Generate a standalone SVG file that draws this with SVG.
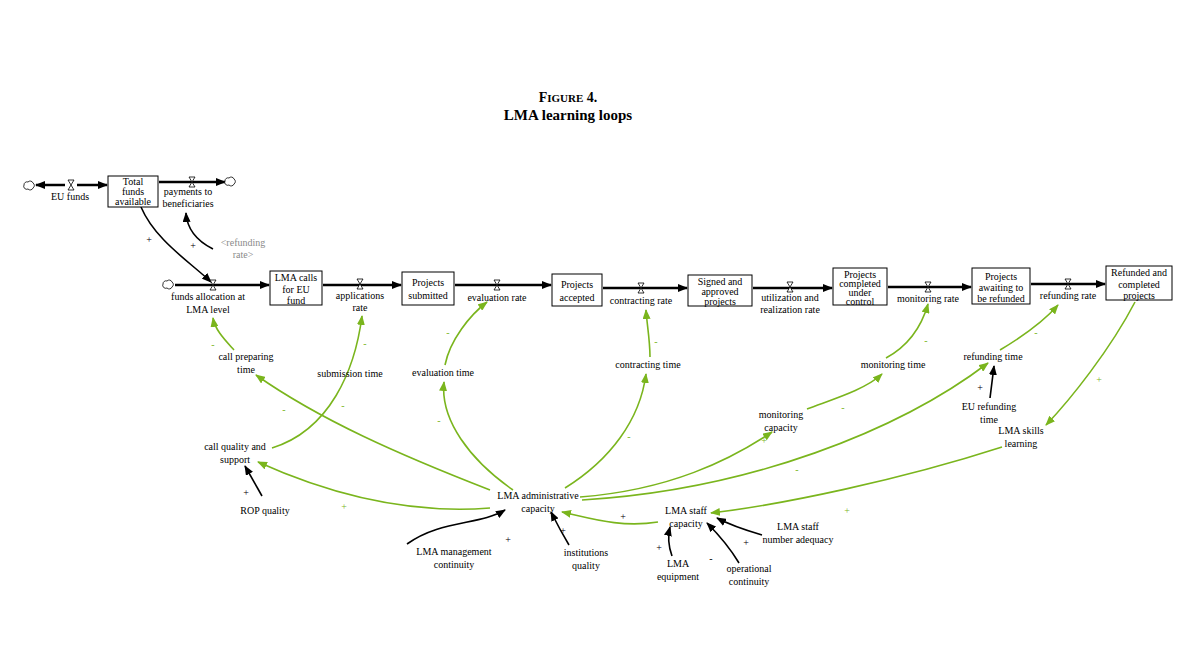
<svg xmlns="http://www.w3.org/2000/svg" width="1187" height="645" viewBox="0 0 1187 645">
<style>
text{font-family:"Liberation Serif","DejaVu Serif",serif;font-size:10px;fill:#000;text-anchor:middle}
.g{fill:#8a8a8a}
.s{fill:#7ab51d}
.box{fill:#fff;stroke:#000;stroke-width:1}
.flow{stroke:#000;stroke-width:2.5;fill:none;marker-end:url(#fa)}
.bl{stroke:#000;stroke-width:1.6;fill:none;marker-end:url(#ba)}
.gr{stroke:#7ab51d;stroke-width:1.6;fill:none;marker-end:url(#ga)}
.cl{fill:#fff;stroke:#000;stroke-width:0.8}
.v{fill:#fff;stroke:#000;stroke-width:0.8}
</style>
<defs>
<marker id="fa" markerWidth="10" markerHeight="8" refX="9" refY="4" orient="auto" markerUnits="userSpaceOnUse"><path d="M0,0L10,4L0,8z" fill="#000"/></marker>
<marker id="ba" markerWidth="10" markerHeight="8" refX="9" refY="4" orient="auto" markerUnits="userSpaceOnUse"><path d="M0,0L10,4L0,8z" fill="#000"/></marker>
<marker id="ga" markerWidth="10" markerHeight="8" refX="9" refY="4" orient="auto" markerUnits="userSpaceOnUse"><path d="M0,0L10,4L0,8z" fill="#7ab51d"/></marker>
<path id="valve" d="M-3,-5h6l-6,10h6z"/>
<path id="cloud" d="M-6,0a3,3 0 0 1 4,-3a3,3 0 0 1 5,1a3,3 0 0 1 0,5a3,3 0 0 1 -5,1a3,3 0 0 1 -4,-4z"/>
</defs>
<text x="568" y="102" style="font-size:14px;font-weight:bold">F<tspan style="font-size:11px">IGURE</tspan> 4.</text>
<text x="568" y="120" style="font-size:15px;font-weight:bold">LMA learning loops</text>

<g id="connectors">
<path class="flow" d="M65,185H36"/>
<path class="flow" d="M77,185H107"/>
<path class="flow" d="M159,182H225"/>
<path class="flow" d="M175,285H269"/>
<path class="flow" d="M323,285H401"/>
<path class="flow" d="M455,285H551"/>
<path class="flow" d="M603,288H687"/>
<path class="flow" d="M753,288H832"/>
<path class="flow" d="M888,287H971"/>
<path class="flow" d="M1031,284H1105"/>
<path class="bl" d="M141,207C155,240 190,262 211,282"/>
<path class="bl" d="M213,249C195,240 187,228 186,213"/>
<path class="bl" d="M262,496L245,466"/>
<path class="bl" d="M407,544C440,520 480,525 505,510"/>
<path class="bl" d="M569,545C560,530 556,522 551,512"/>
<path class="bl" d="M672,556C668,545 668,535 670,527"/>
<path class="bl" d="M739,563C730,548 718,534 707,523"/>
<path class="bl" d="M762,535C745,530 730,525 717,518"/>
<path class="bl" d="M990,398L994,366"/>
<path class="gr" d="M234,350C225,340 215,330 213,318"/>
<path class="gr" d="M272,448C330,430 355,370 362,316"/>
<path class="gr" d="M445,365C450,340 470,315 487,302"/>
<path class="gr" d="M650,357C650,340 647,325 646,310"/>
<path class="gr" d="M886,358C910,345 922,325 928,304"/>
<path class="gr" d="M1000,350C1025,335 1045,320 1058,305"/>
<path class="gr" d="M1135,302C1110,350 1070,400 1046,425"/>
<path class="gr" d="M807,409C830,400 865,390 882,374"/>
<path class="gr" d="M490,490C400,455 320,420 256,375"/>
<path class="gr" d="M490,508C400,515 320,490 258,462"/>
<path class="gr" d="M513,490C470,460 440,420 444,382"/>
<path class="gr" d="M565,488C610,460 640,420 646,374"/>
<path class="gr" d="M580,497C670,490 730,460 772,432"/>
<path class="gr" d="M582,500C750,490 900,430 988,363"/>
<path class="gr" d="M658,522C620,528 590,518 562,512"/>
<path class="gr" d="M1002,447C900,480 780,505 711,513"/>
</g>

<g id="nodes">
<g id="cloud1"><use href="#cloud" x="30" y="185" class="cl"/></g>
<g id="cloud2"><use href="#cloud" x="231" y="181" class="cl"/></g>
<g id="cloud3"><use href="#cloud" x="169" y="284" class="cl"/></g>
<g id="eu-funds"><use href="#valve" x="71" y="185" class="v"/><text x="70" y="200">EU funds</text></g>
<g id="total-funds"><rect class="box" x="108" y="176" width="50" height="31"/><text x="133" y="185">Total</text><text x="133" y="195">funds</text><text x="133" y="205">available</text></g>
<g id="payments"><use href="#valve" x="192" y="182" class="v"/><text x="188" y="195">payments to</text><text x="188" y="207">beneficiaries</text></g>
<g id="refunding-shadow"><text class="g" x="243" y="246">&lt;refunding</text><text class="g" x="243" y="258">rate&gt;</text></g>
<g id="funds-alloc"><use href="#valve" x="213" y="285" class="v"/><text x="208" y="300">funds allocation at</text><text x="208" y="313">LMA level</text></g>
<g id="lma-calls"><rect class="box" x="270" y="271" width="52" height="34"/><text x="296" y="281">LMA calls</text><text x="296" y="293">for EU</text><text x="296" y="304">fund</text></g>
<g id="applications"><use href="#valve" x="360" y="284" class="v"/><text x="360" y="299">applications</text><text x="360" y="311">rate</text></g>
<g id="projects-submitted"><rect class="box" x="402" y="272" width="52" height="33"/><text x="428" y="286">Projects</text><text x="428" y="299">submitted</text></g>
<g id="evaluation-rate"><use href="#valve" x="497" y="285" class="v"/><text x="497" y="301">evaluation rate</text></g>
<g id="projects-accepted"><rect class="box" x="552" y="274" width="50" height="32"/><text x="577" y="288">Projects</text><text x="577" y="301">accepted</text></g>
<g id="contracting-rate"><use href="#valve" x="641" y="288" class="v"/><text x="641" y="304">contracting rate</text></g>
<g id="signed"><rect class="box" x="688" y="275" width="64" height="31"/><text x="720" y="285">Signed and</text><text x="720" y="295">approved</text><text x="720" y="305">projects</text></g>
<g id="utilization"><use href="#valve" x="790" y="287" class="v"/><text x="790" y="301">utilization and</text><text x="790" y="313">realization rate</text></g>
<g id="completed"><rect class="box" x="833" y="268" width="54" height="37"/><text x="860" y="278">Projects</text><text x="860" y="287">completed</text><text x="860" y="296">under</text><text x="860" y="305">control</text></g>
<g id="monitoring-rate"><use href="#valve" x="928" y="287" class="v"/><text x="928" y="302">monitoring rate</text></g>
<g id="awaiting"><rect class="box" x="972" y="268" width="58" height="36"/><text x="1001" y="280">Projects</text><text x="1001" y="291">awaiting to</text><text x="1001" y="302">be refunded</text></g>
<g id="refunding-rate"><use href="#valve" x="1068" y="284" class="v"/><text x="1068" y="299">refunding rate</text></g>
<g id="refunded"><rect class="box" x="1106" y="266" width="66" height="34"/><text x="1139" y="276">Refunded and</text><text x="1139" y="288">completed</text><text x="1139" y="299">projects</text></g>
<g id="call-preparing"><text x="246" y="360">call preparing</text><text x="246" y="373">time</text></g>
<g id="submission-time"><text x="350" y="377">submission time</text></g>
<g id="evaluation-time"><text x="443" y="376">evaluation time</text></g>
<g id="contracting-time"><text x="648" y="368">contracting time</text></g>
<g id="monitoring-time"><text x="893" y="368">monitoring time</text></g>
<g id="refunding-time"><text x="993" y="360">refunding time</text></g>
<g id="eu-refunding-time"><text x="989" y="410">EU refunding</text><text x="989" y="423">time</text></g>
<g id="skills"><text x="1021" y="434">LMA skills</text><text x="1021" y="447">learning</text></g>
<g id="monitoring-capacity"><text x="781" y="418">monitoring</text><text x="781" y="431">capacity</text></g>
<g id="call-quality"><text x="235" y="450">call quality and</text><text x="235" y="463">support</text></g>
<g id="rop"><text x="265" y="514">ROP quality</text></g>
<g id="admin-capacity"><text x="538" y="499">LMA administrative</text><text x="538" y="512">capacity</text></g>
<g id="staff-capacity"><text x="686" y="514">LMA staff</text><text x="686" y="527">capacity</text></g>
<g id="mgmt"><text x="454" y="555">LMA management</text><text x="454" y="568">continuity</text></g>
<g id="institutions"><text x="586" y="556">institutions</text><text x="586" y="569">quality</text></g>
<g id="equipment"><text x="678" y="567">LMA</text><text x="678" y="580">equipment</text></g>
<g id="operational"><text x="749" y="572">operational</text><text x="749" y="585">continuity</text></g>
<g id="staff-number"><text x="798" y="530">LMA staff</text><text x="798" y="543">number adequacy</text></g>
</g>

<g id="signs">
<text x="149" y="243">+</text><text x="193" y="249">+</text>
<text x="246" y="496">+</text><text x="508" y="543">+</text><text x="563" y="534">+</text>
<text x="659" y="551">+</text><text x="711" y="562">-</text><text x="746" y="546">+</text><text x="980" y="391">+</text>
<text class="s" x="213" y="348">-</text><text class="s" x="365" y="347">-</text><text class="s" x="343" y="409">-</text>
<text class="s" x="448" y="336">-</text><text class="s" x="656" y="345">-</text><text class="s" x="926" y="344">-</text>
<text class="s" x="1036" y="336">-</text><text class="s" x="1099" y="383">+</text><text class="s" x="843" y="411">-</text>
<text class="s" x="284" y="413">-</text><text class="s" x="344" y="510">+</text><text class="s" x="439" y="424">-</text>
<text class="s" x="629" y="440">-</text><text class="s" x="764" y="444">+</text><text class="s" x="797" y="473">-</text>
<text x="623" y="520">+</text><text class="s" x="847" y="514">+</text>
</g>
</svg>
